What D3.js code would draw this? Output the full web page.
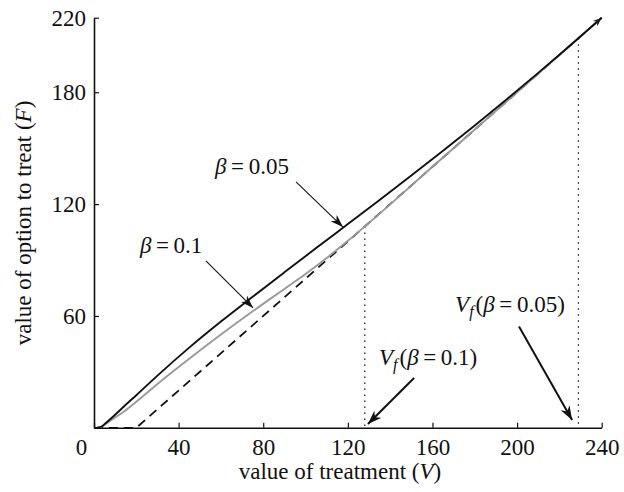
<!DOCTYPE html>
<html>
<head>
<meta charset="utf-8">
<script src="https://cdn.jsdelivr.net/npm/d3@7"></script>
<style>
  body { margin: 0; background: #fff; }
  text { font-family: "Liberation Serif", "DejaVu Serif", serif; fill: #111; }
</style>
</head>
<body>
<div id="chart"></div>
<script>
// values
const xTicks = [0, 40, 80, 120, 160, 200, 240]
const yTicks = [60, 120, 180, 220]

// beta = 0.05 (black)
const vBlack = [1.5, 4, 6, 10, 14, 20, 30, 45, 60, 75, 90, 105, 120, 135, 150, 165, 180, 195, 210, 229, 240]
const fBlack = [0, 1, 3, 7, 11.3, 17.5, 28, 43, 57, 70.3, 83.4, 96.4, 109.3, 122.2, 135.3, 148.6, 162.2, 176.1, 190.4, 209, 220]

// beta = 0.1 (grey)
const vGray = [1.5, 4, 6, 10, 14, 20, 30, 45, 60, 75, 90, 100, 110, 120, 128, 160, 200, 240]
const fGray = [0, 0.8, 2.5, 5.5, 8.6, 14, 23.5, 37, 50, 62.5, 74.5, 82.5, 91.1, 100.3, 108, 140, 180, 220]

// immediate treatment payoff V - K (dashed)
const vPay = [0, 20, 240]
const fPay = [0, 0, 220]

// thresholds V_f
const vfBeta = [0.1, 0.05]
const vfValue = [128, 229]

const width = 624, height = 492
const margin = {top: 17.7, right: 22.3, bottom: 64.2, left: 94}
const w = width - margin.left - margin.right
const h = height - margin.top - margin.bottom
const fontSize = '23px'

const svg = d3.select('#chart').append('svg')
  .attr('width', width)
  .attr('height', height)

const defs = svg.append('defs')
function marker(id, len, half) {
  defs.append('marker')
    .attr('id', id)
    .attr('markerUnits', 'userSpaceOnUse')
    .attr('viewBox', `${-len} ${-half} ${len} ${half * 2}`)
    .attr('refX', 0).attr('refY', 0)
    .attr('markerWidth', len).attr('markerHeight', half * 2)
    .attr('orient', 'auto')
    .append('path')
      .attr('d', `M0,0L${-len},${-half}L${-len * 0.7},0L${-len},${half}Z`)
      .attr('fill', '#111')
}
marker('head', 13, 4.5)
marker('headBig', 14, 5)
marker('headSmall', 9, 3.5)

const g = svg.append('g')
  .attr('transform', `translate(${margin.left},${margin.top})`)

const x = d3.scaleLinear().domain([0, 240]).range([0, w])
const y = d3.scaleLinear().domain([0, 220]).range([h, 0])

const line = d3.line()
  .x(function(d) { return x(d[0]) })
  .y(function(d) { return y(d[1]) })
  .curve(d3.curveMonotoneX)

// dotted verticals at V_f
g.selectAll('.vf')
  .data(vfValue)
  .enter()
  .append('line')
    .attr('x1', function(d) { return x(d) })
    .attr('x2', function(d) { return x(d) })
    .attr('y1', function(d) { return y(d - 20) })
    .attr('y2', y(0))
    .attr('stroke', '#222')
    .attr('stroke-width', 1.3)
    .attr('stroke-dasharray', '1.5,4.5')

// payoff (dashed) with arrow
g.append('path')
  .datum(d3.zip(vPay, fPay))
  .attr('d', d3.line().x(function(d) { return x(d[0]) }).y(function(d) { return y(d[1]) }))
  .attr('fill', 'none')
  .attr('stroke', '#111')
  .attr('stroke-width', 1.8)
  .attr('stroke-dasharray', '9,6')
  .attr('marker-end', 'url(#headSmall)')

// option value curves
g.append('path')
  .datum(d3.zip(vGray, fGray))
  .attr('d', line)
  .attr('fill', 'none')
  .attr('stroke', '#999')
  .attr('stroke-width', 1.9)

g.append('path')
  .datum(d3.zip(vBlack, fBlack))
  .attr('d', line)
  .attr('fill', 'none')
  .attr('stroke', '#111')
  .attr('stroke-width', 1.9)

// axes, ticks inward
const xAxis = g.append('g')
  .attr('transform', `translate(0,${h})`)
  .call(d3.axisBottom(x).tickValues(xTicks).tickSizeInner(-5).tickSizeOuter(0)
    .tickPadding(11).tickFormat(d3.format('d')))
xAxis.selectAll('.tick text').filter(function(d) { return d === 0 }).attr('dx', -13)

const yAxis = g.append('g')
  .call(d3.axisLeft(y).tickValues(yTicks).tickSizeInner(-5).tickSizeOuter(0)
    .tickPadding(8).tickFormat(d3.format('d')))

svg.selectAll('.domain').attr('stroke', '#111').attr('stroke-width', 1.6)
svg.selectAll('.tick line').attr('stroke', '#111').attr('stroke-width', 1.2)
svg.selectAll('.tick text')
  .style('font-family', '"Liberation Serif", serif')
  .style('font-size', fontSize)
  .attr('fill', '#111')

// axis titles
const xt = g.append('text')
  .attr('x', 246)
  .attr('y', h + 51)
  .attr('text-anchor', 'middle')
  .style('font-size', fontSize)
xt.append('tspan').text('value of treatment (')
xt.append('tspan').style('font-style', 'italic').text('V')
xt.append('tspan').text(')')

const yt = svg.append('text')
  .attr('transform', `translate(31,223) rotate(-90)`)
  .attr('text-anchor', 'middle')
  .style('font-size', fontSize)
yt.append('tspan').text('value of option to treat (')
yt.append('tspan').style('font-style', 'italic').text('F')
yt.append('tspan').text(')')

// annotations (data coordinates)
const betaLabels = [
  {beta: '0.05', v: 57.2, f: 136.2, from: [95.5, 131.9], to: [117.7, 107.7]},
  {beta: '0.1', v: 21.7, f: 93.8, from: [52.9, 89.5], to: [75.2, 64.3]}
]
betaLabels.forEach(function(a) {
  const t = g.append('text')
    .attr('x', x(a.v)).attr('y', y(a.f))
    .style('font-size', fontSize)
  t.append('tspan').style('font-style', 'italic').text('β')
  t.append('tspan').text('\u2009=\u2009' + a.beta)
  g.append('line')
    .attr('x1', x(a.from[0])).attr('y1', y(a.from[1]))
    .attr('x2', x(a.to[0])).attr('y2', y(a.to[1]))
    .attr('stroke', '#111')
    .attr('stroke-width', 1.1)
    .attr('marker-end', 'url(#head)')
})

const vfLabels = [
  {i: 0, v: 134.7, f: 33.7, from: [151.3, 26.7], to: [129.5, 2.0]},
  {i: 1, v: 170.7, f: 62.1, from: [200.9, 54.4], to: [226.0, 4.2]}
]
vfLabels.forEach(function(a) {
  const t = g.append('text')
    .attr('x', x(a.v)).attr('y', y(a.f))
    .style('font-size', fontSize)
  t.append('tspan').style('font-style', 'italic').text('V')
  t.append('tspan').style('font-style', 'italic').style('font-size', '16px')
    .attr('dy', 5).text('f')
  t.append('tspan').attr('dy', -5).attr('dx', 2).text('(')
  t.append('tspan').style('font-style', 'italic').text('β')
  t.append('tspan').text('\u2009=\u2009' + vfBeta[a.i] + ')')
  g.append('line')
    .attr('x1', x(a.from[0])).attr('y1', y(a.from[1]))
    .attr('x2', x(a.to[0])).attr('y2', y(a.to[1]))
    .attr('stroke', '#111')
    .attr('stroke-width', 2)
    .attr('marker-end', 'url(#headBig)')
})
</script>
</body>
</html>
